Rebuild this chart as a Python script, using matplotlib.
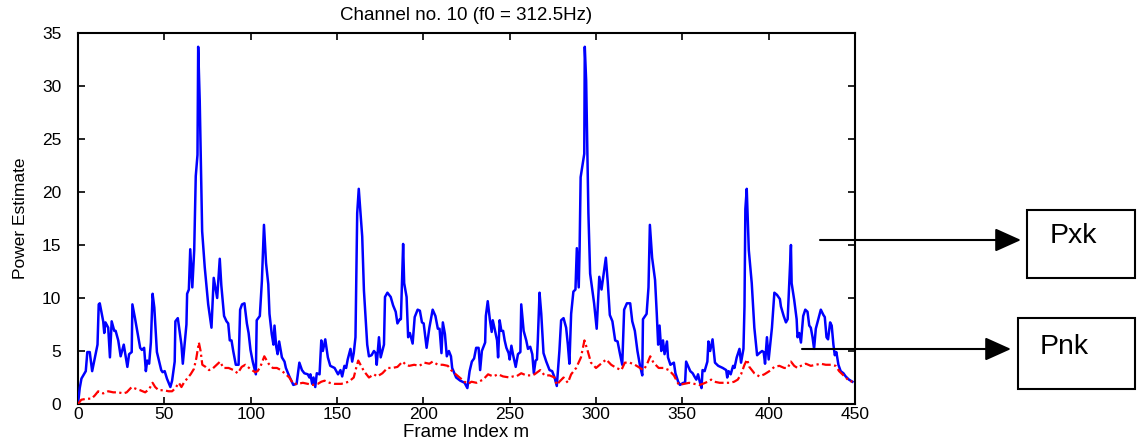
import matplotlib
matplotlib.use("Agg")
import matplotlib.pyplot as plt
from matplotlib.patches import Rectangle

plt.rcParams['font.family'] = ['Liberation Sans', 'DejaVu Sans']

# ---- data ----
pxk_frame = [0, 1, 2, 4.5, 5.4, 6.8, 8.2, 11.3, 12, 12.6, 14.6, 15.2, 15.9, 17.5, 18.5, 19.5, 21, 21.8,
             23.3, 24.7, 26.5, 28.6, 29.6, 31.1, 31.5, 33, 34.6, 36, 37, 38.3, 39.3, 40.1, 41.2, 42.2,
             43.2, 44.2, 45.7, 48.2, 49, 50.2, 51.5, 53.5, 54.5, 56, 56.4, 57.8, 59.9, 60.7, 62.8, 63.2,
             64.2, 65, 66.2, 67.3, 68.2, 69.2, 69.6, 70.5, 71.9, 73.4, 75.4, 77.3, 78.6, 80.6, 82.1, 83,
             84.6, 86, 87, 87.9, 88.9, 89.9, 91.4, 93, 93.9, 95, 96.4, 97.8, 98.8, 99.9, 101.2, 103,
             103.5, 105.3, 106.5, 107.7, 108.9, 110.2, 110.9, 112.2, 113.2, 113.8, 114.8, 115.6, 116.5,
             118.1, 119.6, 120.4, 122.4, 124.7, 126.6, 128.2, 129.7, 131.1, 133.1, 134, 134.6, 135.6,
             136.4, 137.4, 138.3, 139.9, 140.9, 141.8, 143.2, 144.7, 146.1, 148.6, 150.6, 152, 153,
             154.3, 155.3, 156.2, 157.8, 158.8, 159.7, 160.7, 161.7, 162.6, 164.6, 165.6, 167.5, 168.5,
             170, 171.4, 172.4, 173, 174.3, 175.3, 177.2, 177.8, 179.2, 181.1, 182.5, 184, 185, 186.4,
             187, 188.3, 188.9, 190.3, 191.2, 192.2, 193.8, 195, 196.7, 198, 199.2, 200.2, 201.9, 203.5,
             205.4, 207, 208.4, 209.4, 210.5, 211.3, 212.5, 213.6, 214.8, 216, 216.7, 219, 221.4, 223.9,
             225.5, 226.8, 228.1, 229.4, 230.6, 232, 232.9, 233.9, 235.8, 236.2, 237.3, 238.5, 239.6,
             240.2, 241.3, 242.7, 243.3, 244.2, 245.2, 246.2, 247.1, 248.1, 249.4, 250, 251, 251.9,
             253.5, 254.8, 256.2, 256.7, 258.1, 259.6, 260.6, 261.9, 263.1, 264, 265, 265.8, 266.3,
             267.3, 268.3, 269.6, 271.2, 273.1, 274.6, 276, 277.3, 278.8, 279.8, 281.2, 282.7, 283.7,
             284.6, 285.6, 286.9, 288.1, 288.9, 290, 290.5, 291.1, 293.2, 293.5, 294.3, 295.6, 296.6,
             298.9, 300.4, 301.9, 303.2, 304.2, 305.7, 306.8, 308, 309.5, 311.1, 312.5, 313.8, 315.2,
             316.3, 317.9, 319.8, 321, 322.5, 324, 325.5, 326.8, 327.2, 329.3, 330.4, 331.2, 332.5,
             334.2, 335.2, 336, 336.8, 337.8, 338.8, 339.7, 341.1, 341.7, 343.1, 345.1, 346, 347.6,
             348.6, 350.6, 351.6, 352.2, 353, 354.6, 356, 357, 358.1, 359.1, 360.1, 361.1, 361.7, 362.9,
             364.5, 365.1, 366.1, 367.5, 368.9, 370.8, 373.4, 375.4, 376, 376.8, 378, 379.4, 380.2,
             381.5, 383.1, 384, 385.4, 386, 386.5, 387.3, 388.5, 390.2, 391.7, 393.3, 394.6, 396.2,
             397.1, 397.9, 399, 400, 401.9, 403.3, 404.8, 406.5, 407.1, 408.7, 410, 411, 412, 412.9,
             413.3, 414.8, 416.2, 416.7, 417.7, 418.7, 420, 421.2, 422.5, 423.5, 424.4, 425.4, 426.3,
             427.3, 429.2, 430.2, 431.7, 432.5, 433.5, 434.4, 435.6, 436.5, 437.5, 438.3, 439.2, 440.4,
             441.7, 443.3, 444.6, 446.5, 448.5]
pxk_power = [0, 1.5, 2.4, 3.1, 4.9, 4.9, 3.1, 5.6, 9.4, 9.5, 7.8, 6.7, 7.7, 7.2, 4.4, 7.8, 6.9, 6.9,
             6.0, 4.5, 5.6, 3.5, 4.7, 4.9, 9.4, 8.1, 6.6, 5.3, 5.1, 5.3, 3.1, 4.1, 3.8, 5.8,
             10.4, 9.1, 4.9, 3.2, 3.0, 3.1, 2.4, 1.6, 2.2, 4.0, 7.8, 8.1, 5.6, 3.8, 7.5, 10.4,
             10.8, 14.6, 11.0, 14.5, 21.5, 23.5, 33.7, 28.6, 16.3, 12.9, 9.4, 7.2, 11.9, 10.0, 13.7, 11.2,
             8.3, 7.8, 7.6, 6.0, 6.0, 5.0, 3.7, 3.7, 8.9, 9.4, 9.5, 7.6, 6.7, 5.1, 4.0, 2.8,
             7.9, 8.3, 11.6, 16.9, 13.3, 11.3, 8.5, 6.6, 5.6, 7.4, 5.4, 4.7, 5.9,
             4.4, 4.0, 3.4, 2.6, 1.8, 1.9, 3.9, 3.2, 2.9, 2.8, 2.5, 2.8, 1.9,
             2.5, 1.6, 2.9, 2.8, 6.0, 5.0, 6.1, 4.4, 3.6, 3.4, 2.8, 3.2, 2.6,
             3.6, 3.4, 4.2, 5.2, 4.0, 4.8, 6.3, 18.0, 20.3, 15.8, 10.7, 5.6, 4.5,
             4.6, 5.0, 4.8, 3.7, 6.3, 4.4, 5.6, 10.1, 10.5, 10.1, 9.3, 8.7, 7.6, 8.0,
             8.0, 15.1, 11.4, 10.1, 6.3, 6.7, 5.7, 8.2, 8.9, 8.8, 7.7, 7.6, 5.3, 7.2,
             8.9, 8.3, 7.1, 7.1, 4.8, 7.7, 6.6, 4.5, 5.0, 4.5, 3.4, 2.5, 2.2, 2.0,
             1.5, 3.1, 4.0, 4.3, 5.3, 5.3, 3.2, 5.0, 5.8, 8.3, 9.7, 8.0, 6.8,
             7.9, 7.1, 6.0, 4.4, 7.9, 6.9, 6.9, 6.0, 5.3, 4.8, 4.2, 5.5, 4.7,
             3.5, 4.7, 4.9, 9.4, 6.9, 6.0, 5.2, 5.4, 4.7, 2.9, 4.1, 4.2, 6.0,
             10.5, 8.5, 4.8, 4.0, 3.2, 3.1, 2.5, 1.7, 5.0, 7.9, 8.1, 7.2, 5.6,
             3.8, 8.5, 10.6, 10.8, 14.7, 11.0, 14.6, 21.4, 23.6, 33.7, 30.5, 18.0, 12.3,
             9.5, 7.1, 12.0, 10.8, 12.0, 13.8, 11.5, 8.4, 7.8, 6.0, 5.9, 4.8, 3.7,
             8.9, 9.5, 9.5, 7.8, 6.9, 5.0, 3.6, 2.7, 8.0, 8.5, 11.0, 16.9, 13.8,
             11.7, 8.5, 5.6, 7.4, 5.0, 6.0, 4.7, 5.9, 4.4, 3.7, 3.9, 2.9, 2.1,
             1.8, 2.0, 2.0, 4.0, 3.7, 3.1, 2.9, 2.6, 2.3, 2.8, 2.1, 1.5, 3.2, 3.1,
             4.0, 5.9, 5.0, 6.1, 3.9, 3.6, 3.4, 3.2, 2.5, 3.1, 2.8, 3.6, 3.4,
             4.4, 5.2, 3.9, 5.2, 9.2, 18.4, 20.3, 14.5, 11.4, 7.2, 4.6, 4.8, 5.0,
             4.9, 3.8, 6.3, 4.2, 7.2, 10.5, 10.3, 9.9, 9.2, 8.3, 7.7, 8.0, 11.7, 15.0,
             11.4, 9.8, 8.0, 6.3, 6.7, 5.8, 8.3, 8.9, 8.7, 7.4, 7.2, 6.3, 5.2,
             7.1, 8.3, 8.9, 8.4, 8.2, 6.3, 6.1, 7.7, 7.4, 5.6, 4.6, 4.9, 3.7,
             3.1, 2.9, 2.6, 2.3, 2.1]

pnk_frame = [0, 1.9, 4.9, 7.8, 9.7, 11.7, 12.6, 14.6, 17.5, 20.4, 23.3, 26.3, 28.2, 31.1, 34, 36,
             38.9, 41.2, 43.2, 44.7, 46.7, 49.6, 52.5, 54.5, 56.4, 58.4, 59.9, 61.3, 63.2, 65.2, 67.1,
             68.5, 70, 71, 72, 73.9, 75.9, 77.7, 79.7, 82.3, 84.2, 87.2, 90.1, 92.5, 94.8, 96.9, 99.8,
             102.6, 104, 105.6, 107.9, 110.4, 112.8, 115.2, 117.5, 120.4, 122.4, 124.7, 127.2, 130.2,
             133.1, 136, 138.9, 140.9, 142.8, 145.7, 148.6, 152.5, 156.8, 159.7, 161.1, 162.3, 163.6,
             165.6, 168.5, 171.4, 173.3, 176.3, 179.2, 182.1, 185, 188, 189.9, 191.8, 194.7, 197.7,
             200.6, 203.5, 205.4, 208.4, 211.3, 214.2, 216.1, 218.1, 221, 223.9, 225.9, 227.9, 230.8,
             234.6, 237.5, 240.4, 243.3, 246.2, 250, 251.9, 253.8, 256.7, 259.6, 262.5, 264.4, 267.7,
             270.2, 273.1, 276, 277.3, 278.8, 281.2, 283.7, 285.6, 288.5, 291.3, 293.3, 295.2, 297.1,
             300, 302.9, 305.9, 308.8, 311.8, 314.7, 316.7, 319.6, 322.5, 325.5, 327.5, 329.4, 331.4,
             333.3, 336.3, 339.2, 342.2, 345.1, 348, 351, 354, 356.9, 359.8, 361.8, 364.7, 366.7,
             368.6, 371.6, 374.5, 377.5, 380, 382.1, 384, 386, 387.5, 388.8, 391.7, 394.6, 397.5,
             400.4, 403.3, 406.2, 409, 411, 412.9, 414.8, 416.7, 418.7, 421.5, 424.4, 427.3, 430.2,
             433.1, 436, 438.8, 440.8, 442.7, 444.6, 446.5, 448.5]
pnk_power = [0, 0.4, 0.5, 0.5, 0.8, 1.2, 1.1, 1.0, 1.2, 1.1, 1.1, 1.0, 1.1, 1.6, 1.4, 1.3,
             1.1, 1.4, 2.0, 1.6, 1.3, 1.3, 1.2, 1.2, 1.5, 2.0, 1.6, 2.0, 2.4, 2.8, 3.3,
             4.3, 5.8, 5.0, 3.7, 3.5, 3.2, 3.3, 3.6, 4.0, 3.4, 3.4, 3.2, 2.9, 3.5, 3.7, 3.3,
             3.0, 3.1, 3.5, 4.5, 3.8, 3.4, 3.4, 3.2, 2.8, 2.5, 1.9, 1.9, 2.0,
             1.9, 1.8, 1.9, 2.1, 2.2, 2.0, 1.9, 1.9, 2.1, 2.5, 3.4, 4.1, 3.7,
             3.1, 2.5, 2.8, 2.6, 2.9, 3.4, 3.4, 3.5, 4.0, 3.7, 3.6, 3.7, 3.6,
             3.9, 3.8, 4.0, 3.7, 3.7, 3.6, 3.2, 2.9, 2.5, 2.1, 1.9, 2.1, 2.0,
             2.3, 2.8, 2.6, 2.8, 2.6, 2.5, 2.6, 2.6, 2.9, 2.7, 2.7, 2.8, 3.2,
             2.7, 2.7, 2.5, 1.8, 2.1, 2.5, 2.0, 2.8, 3.4, 4.4, 6.0, 5.0, 3.9,
             3.4, 3.8, 4.2, 3.7, 3.4, 3.2, 3.9, 3.9, 3.7, 3.4, 3.2, 3.7, 4.5,
             3.9, 3.4, 3.4, 3.2, 2.7, 1.8, 1.9, 2.0, 1.9, 1.8, 1.9, 2.1, 2.3,
             2.1, 2.0, 2.0, 2.0, 2.1, 2.3, 2.8, 3.7, 4.2, 3.5, 2.9, 2.6, 2.8,
             3.1, 3.5, 3.6, 3.4, 3.4, 4.0, 3.6, 3.4, 3.6, 3.8, 3.6, 3.7, 3.8,
             3.7, 3.7, 3.6, 3.1, 2.8, 2.5, 2.2, 2.1]

x_ticks = [0, 50, 100, 150, 200, 250, 300, 350, 400, 450]
y_ticks = [0, 5, 10, 15, 20, 25, 30, 35]
title_text = "Channel no. 10 (f0 = 312.5Hz)"
x_label = "Frame Index m"
y_label = "Power Estimate"
labels = ["Pxk", "Pnk"]

W, H = 1143, 443
fig = plt.figure(figsize=(W / 100, H / 100), dpi=100)
ax_bottom, ax_top = 404, 33
ax = fig.add_axes([78 / W, 1 - ax_bottom / H, (855 - 78) / W, (ax_bottom - ax_top) / H])

ax.plot(pxk_frame, pxk_power, color='#0000ff', lw=1.8, zorder=3)
ax.plot(pnk_frame, pnk_power, color='#ff0000', lw=1.6,
        linestyle=(0, (4, 1.5, 1, 1.5)), zorder=4)

ax.set_xlim(0, 450)
ax.set_ylim(0, 35)
ax.set_xticks(x_ticks)
ax.set_yticks(y_ticks)
ax.tick_params(direction='in', length=5, width=1.2, top=True, right=True,
               labelsize=12.5)
ax.tick_params(axis='y', pad=12)
ax.tick_params(axis='x', pad=2)
for s in ax.spines.values():
    s.set_linewidth(1.5)

ax.set_title(title_text, fontsize=13.5, pad=9)
ax.set_xlabel(x_label, fontsize=13.5)
# place the x label just under the tick labels (top edge ~424 px from the top)
ax.xaxis.set_label_coords(0.5, -(424 - ax_bottom) / (ax_bottom - ax_top))
ax.set_ylabel(y_label, fontsize=12.5, labelpad=10)

# annotation arrows and boxes (figure pixel coordinates)
def fp(x, y):
    return (x / W, 1 - y / H)

arrows = [((820, 240), (1021, 240)), ((802, 349), (1011, 349))]
boxes = [(1027, 210.5, 1135, 278), (1018, 318, 1135, 389)]
text_pos = [(1073, 236), (1064, 347)]

for (a, b), (x0, y0, x1, y1), tp, lab in zip(arrows, boxes, text_pos, labels):
    fig.add_artist(matplotlib.patches.FancyArrowPatch(
        fp(*a), fp(*b), transform=fig.transFigure,
        arrowstyle='-|>,head_length=0.8,head_width=0.36', mutation_scale=20,
        color='black', lw=1.5, shrinkA=0, shrinkB=0))
    fig.add_artist(Rectangle((x0 / W, 1 - y1 / H), (x1 - x0) / W, (y1 - y0) / H,
                             transform=fig.transFigure, fill=False,
                             edgecolor='black', lw=1.5))
    fig.text(tp[0] / W, 1 - tp[1] / H, lab, fontsize=20.5, ha='center', va='center')

fig.savefig("out.png", dpi=100)
